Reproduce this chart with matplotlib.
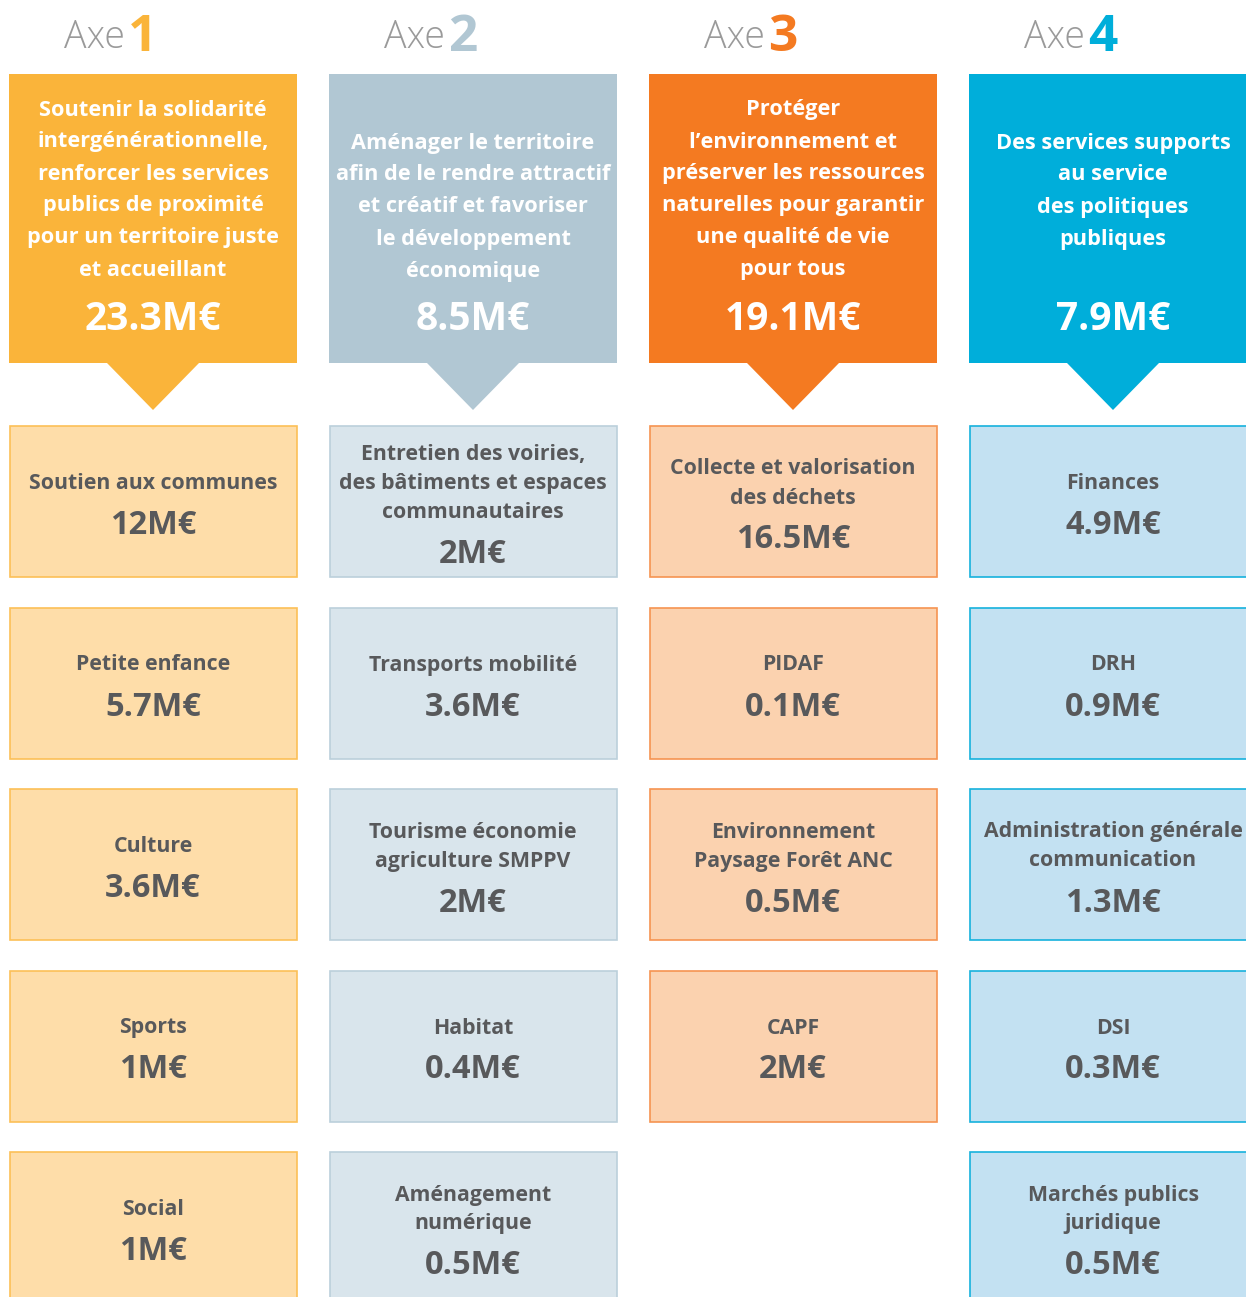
import matplotlib
matplotlib.use("Agg")
import matplotlib.pyplot as plt
from matplotlib.patches import Rectangle, Polygon

# data
axes_num = ["1", "2", "3", "4"]
axes_titles = [
    ["Soutenir la solidarité", "intergénérationnelle,", "renforcer les services",
     "publics de proximité", "pour un territoire juste", "et accueillant"],
    ["Aménager le territoire", "afin de le rendre attractif", "et créatif et favoriser",
     "le développement", "économique"],
    ["Protéger", "l’environnement et", "préserver les ressources",
     "naturelles pour garantir", "une qualité de vie", "pour tous"],
    ["Des services supports", "au service", "des politiques", "publiques"],
]
axes_totals = ["23.3M€", "8.5M€", "19.1M€", "7.9M€"]

items_axe1 = [["Soutien aux communes"], ["Petite enfance"], ["Culture"], ["Sports"], ["Social"]]
values_axe1 = ["12M€", "5.7M€", "3.6M€", "1M€", "1M€"]
items_axe2 = [["Entretien des voiries,", "des bâtiments et espaces", "communautaires"],
              ["Transports mobilité"], ["Tourisme économie", "agriculture SMPPV"],
              ["Habitat"], ["Aménagement", "numérique"]]
values_axe2 = ["2M€", "3.6M€", "2M€", "0.4M€", "0.5M€"]
items_axe3 = [["Collecte et valorisation", "des déchets"], ["PIDAF"],
              ["Environnement", "Paysage Forêt ANC"], ["CAPF"]]
values_axe3 = ["16.5M€", "0.1M€", "0.5M€", "2M€"]
items_axe4 = [["Finances"], ["DRH"], ["Administration générale", "communication"],
              ["DSI"], ["Marchés publics", "juridique"]]
values_axe4 = ["4.9M€", "0.9M€", "1.3M€", "0.3M€", "0.5M€"]

items = [items_axe1, items_axe2, items_axe3, items_axe4]
values = [values_axe1, values_axe2, values_axe3, values_axe4]

head_colors = ["#FAB43A", "#B1C7D3", "#F47A21", "#00AEDA"]
box_colors = ["#FEDDA9", "#D9E5EC", "#FBD2AF", "#C3E1F2"]
edge_colors = ["#FCC057", "#BBD0DB", "#F69451", "#16B2DD"]

W, H = 1246, 1297
fig = plt.figure(figsize=(W / 100, H / 100), dpi=100)
ax = fig.add_axes([0, 0, 1, 1])
ax.set_xlim(0, W)
ax.set_ylim(H, 0)
ax.axis("off")

font = "Open Sans"
grey = "#58595B"
col_w = 288
box_h = 151

for c in range(4):
    x0 = 9 + c * 320
    cx = x0 + col_w / 2

    # title "Axe N"
    ax.text(cx - 28, 38, "Axe", ha="right", va="center", fontsize=27,
            family=font, weight="light", color="#9A9A9A")
    ax.text(cx - 25, 38, axes_num[c], ha="left", va="center", fontsize=37,
            family=font, weight="bold", color=head_colors[c])

    # header block with arrow
    ax.add_patch(Rectangle((x0, 74), col_w, 289, facecolor=head_colors[c],
                           edgecolor="none"))
    ax.add_patch(Polygon([(cx - 46, 363), (cx + 46, 363), (cx, 410)],
                         closed=True, facecolor=head_colors[c], edgecolor="none"))
    lines = axes_titles[c]
    y = 110 if len(lines) >= 6 else 143
    for ln in lines:
        ax.text(cx, y, ln, ha="center", va="center", fontsize=15.7,
                family=font, weight="bold", color="white")
        y += 32
    ax.text(cx, 320, axes_totals[c], ha="center", va="center", fontsize=28,
            family=font, weight="bold", color="white")

    # sub boxes
    for r, (lab, val) in enumerate(zip(items[c], values[c])):
        y0 = 426 + r * 181.5
        ax.add_patch(Rectangle((x0 + 0.5, y0), col_w - 1, box_h,
                               facecolor=box_colors[c], edgecolor=edge_colors[c],
                               linewidth=1.2))
        mid = y0 + box_h / 2 + 3
        n = len(lab)
        yy = mid - ((n - 1) * 29 + 42) / 2
        for ln in lab:
            ax.text(cx, yy, ln, ha="center", va="center", fontsize=15.3,
                    family=font, weight="bold", color=grey)
            yy += 29
        ax.text(cx, yy + 13, val, ha="center", va="center", fontsize=23.5,
                family=font, weight="bold", color=grey)

fig.savefig("out.png", dpi=100)
